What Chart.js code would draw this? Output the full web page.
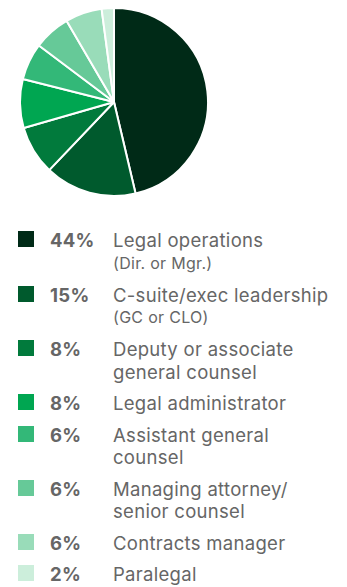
<!DOCTYPE html>
<html>
<head>
<meta charset="utf-8">
<script src="https://cdn.jsdelivr.net/npm/chart.js@4"></script>
<style>
  html, body { margin: 0; padding: 0; background: #fff; }
  body { width: 347px; height: 587px; position: relative; overflow: hidden; font-family: Inter, "Noto Sans", sans-serif; }
  #roleChart { position: absolute; left: 19px; top: 7px; }
  #legend { position: absolute; left: 18px; top: 229px; color: #666; letter-spacing: 0.3px; }
  .row { display: flex; align-items: flex-start; margin-bottom: 9px; }
  .swatch { width: 16px; height: 16px; margin-top: 2px; flex: none; }
  .pct { width: 79px; padding-left: 16px; box-sizing: border-box; flex: none; font-size: 18.5px; font-weight: 700; line-height: 22.5px; }
  .lbl { font-size: 18.5px; line-height: 22.5px; }
  .note { font-size: 16px; line-height: 23px; }
</style>
</head>
<body>
<canvas id="roleChart" width="190" height="190"></canvas>
<div id="legend"></div>
<script>
// Survey: respondent roles
const roleShares = [44, 15, 8, 8, 6, 6, 6, 2];
const roleLabels = [
    ['Legal operations'],
    ['C-suite/exec leadership'],
    ['Deputy or associate', 'general counsel'],
    ['Legal administrator'],
    ['Assistant general', 'counsel'],
    ['Managing attorney/', 'senior counsel'],
    ['Contracts manager'],
    ['Paralegal']
];
const roleNotes = ['(Dir. or Mgr.)', '(GC or CLO)', '', '', '', '', '', ''];
const greens = ['#002a17', '#005a2d', '#017a3c', '#00a651', '#33b878', '#66c998', '#99dcb9', '#cceedb'];

const ctx = document.getElementById('roleChart').getContext('2d');

const roleChart = new Chart(ctx, {
    type: 'pie',
    data: {
        labels: roleLabels.map(l => l.join(' ')),
        datasets: [{
            data: roleShares,
            backgroundColor: greens,
            borderColor: '#ffffff',
            borderWidth: 2
        }]
    },
    options: {
        responsive: false,
        animation: false,
        layout: { padding: 0 },
        plugins: {
            legend: { display: false },
            tooltip: { enabled: false }
        }
    }
});

// --- HTML legend built from the same arrays ---
const legendEl = document.getElementById('legend');
roleShares.forEach((share, i) => {
    const row = document.createElement('div');
    row.className = 'row';
    let text = roleLabels[i].map(line => `<div class="lbl">${line}</div>`).join('');
    if (roleNotes[i]) text += `<div class="note">${roleNotes[i]}</div>`;
    row.innerHTML = `<div class="swatch" style="background:${greens[i]}"></div>` +
        `<div class="pct">${share}%</div><div>${text}</div>`;
    legendEl.appendChild(row);
});
</script>
</body>
</html>
